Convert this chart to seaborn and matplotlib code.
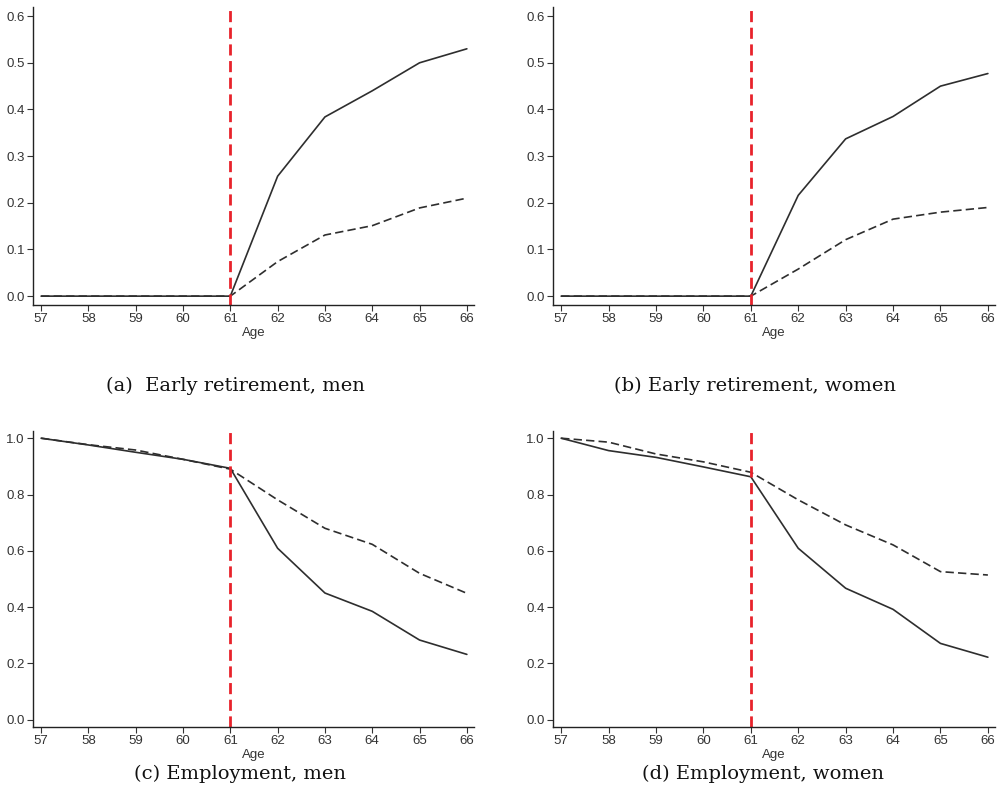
import numpy as np
import pandas as pd
import matplotlib.pyplot as plt
import seaborn as sns

# Donnees

ages = [57, 58, 59, 60, 61, 62, 63, 64, 65, 66]

retraite_hommes_plein = [0, 0, 0, 0, 0, 0.257, 0.384, 0.440, 0.500, 0.530]
retraite_hommes_tiret = [0, 0, 0, 0, 0, 0.074, 0.131, 0.151, 0.189, 0.210]

retraite_femmes_plein = [0, 0, 0, 0, 0, 0.216, 0.337, 0.385, 0.450, 0.477]
retraite_femmes_tiret = [0, 0, 0, 0, 0, 0.058, 0.121, 0.165, 0.180, 0.190]

emploi_hommes_plein = [1.0, 0.976, 0.950, 0.925, 0.893, 0.609, 0.450, 0.385, 0.283, 0.232]
emploi_hommes_tiret = [1.0, 0.977, 0.958, 0.925, 0.890, 0.781, 0.680, 0.623, 0.520, 0.449]

emploi_femmes_plein = [1.0, 0.956, 0.932, 0.898, 0.863, 0.609, 0.467, 0.392, 0.271, 0.222]
emploi_femmes_tiret = [1.0, 0.986, 0.944, 0.916, 0.879, 0.781, 0.692, 0.621, 0.526, 0.514]

titres = ["(a)  Early retirement, men", "(b) Early retirement, women",
          "(c) Employment, men", "(d) Employment, women"]

panneaux = [
    (retraite_hommes_plein, retraite_hommes_tiret),
    (retraite_femmes_plein, retraite_femmes_tiret),
    (emploi_hommes_plein, emploi_hommes_tiret),
    (emploi_femmes_plein, emploi_femmes_tiret),
]

sns.set_style("ticks")
plt.rcParams['font.family'] = ['Liberation Sans', 'DejaVu Sans']

fig = plt.figure(figsize=(10.02, 7.91), dpi=100)

positions = [
    [0.033, 0.6144, 0.440, 0.377],
    [0.552, 0.6144, 0.441, 0.377],
    [0.033, 0.0809, 0.440, 0.374],
    [0.552, 0.0809, 0.441, 0.374],
]
centres_titres = [(235, 386), (755, 386), (240, 774), (763, 774)]

for i, (plein, tiret) in enumerate(panneaux):
    ax = fig.add_axes(positions[i])
    df = pd.DataFrame({
        'Age': ages * 2,
        'valeur': plein + tiret,
        'serie': ['plein'] * len(ages) + ['tiret'] * len(ages),
    })
    sns.lineplot(data=df, x='Age', y='valeur', style='serie',
                 dashes={'plein': '', 'tiret': (5, 2.5)},
                 color='#2e2e2e', linewidth=1.2, legend=False, ax=ax)
    ax.axvline(61, color='#e8232b', linewidth=2.0, linestyle=(0, (4, 2)))

    if i < 2:
        ax.set_ylim(-0.019, 0.62)
        ax.set_yticks(np.arange(0, 0.61, 0.1))
        ax.set_yticklabels(["0.0", "0.1", "0.2", "0.3", "0.4", "0.5", "0.6"])
    else:
        ax.set_ylim(-0.026, 1.025)
        ax.set_yticks(np.arange(0, 1.01, 0.2))
        ax.set_yticklabels(["0.0", "0.2", "0.4", "0.6", "0.8", "1.0"])
    ax.set_xlim(56.83, 66.15)
    ax.set_xticks(ages)
    ax.set_xlabel("Age", fontsize=9.5, labelpad=1, color='#333333')
    ax.set_ylabel("")
    ax.tick_params(labelsize=9.5, length=4, width=0.8, colors='#333333', pad=2)
    for s in ['left', 'bottom']:
        ax.spines[s].set_linewidth(1.0)
        ax.spines[s].set_color('#222222')
    sns.despine(ax=ax)

    cx, cy = centres_titres[i]
    fig.text(cx / 1002, 1 - cy / 791, titres[i], ha='center', va='center',
             fontsize=14, family=['DejaVu Serif'], color='#111111')

fig.savefig("out.png", dpi=100)
